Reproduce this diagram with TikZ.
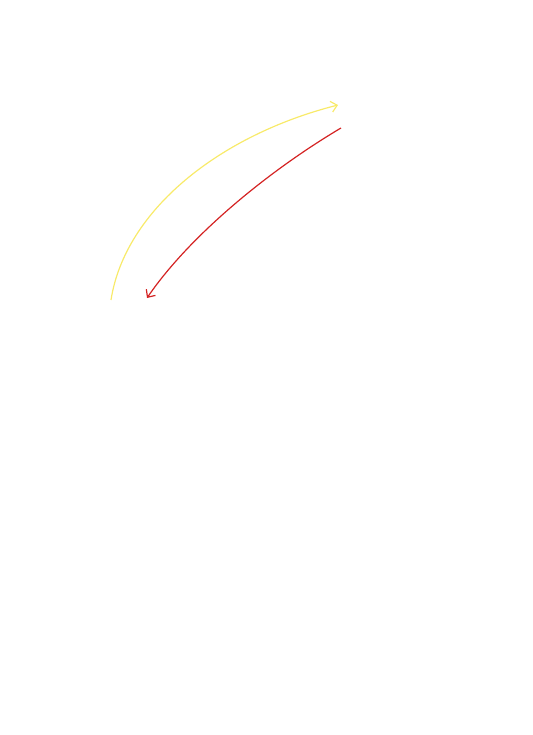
\documentclass[tikz,border=0pt]{standalone}
\usetikzlibrary{arrows.meta}
\definecolor{curveyellow}{HTML}{F8EA6A}
\definecolor{curvered}{HTML}{D42323}
\tikzset{
  curve/.style={line width=1.2pt, -{Straight Barb[length=6pt,width=11pt]}},
}
\begin{document}
\begin{tikzpicture}[x=1pt,y=-1pt]
\useasboundingbox (0,0) rectangle (532,735);
\coordinate (ys) at (111,300);
\coordinate (ye) at (338,105);
\coordinate (rs) at (341,128);
\coordinate (re) at (147,298);
\draw[curve, curveyellow] (ys) .. controls (125,210) and (220,135) .. (ye);
\draw[curve, curvered] (rs) .. controls (270,170) and (190,235) .. (re);
\end{tikzpicture}
\end{document}
